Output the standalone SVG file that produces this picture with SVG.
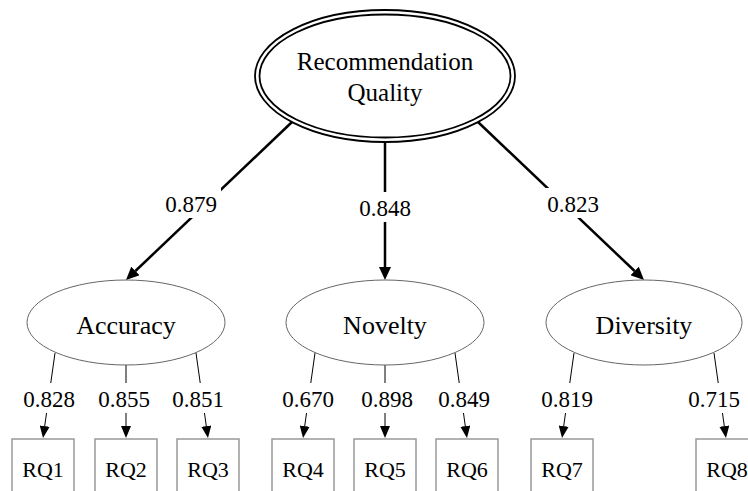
<svg xmlns="http://www.w3.org/2000/svg" width="748" height="491" viewBox="0 0 748 491" font-family="Liberation Serif, serif">
<style>
text{fill:#000;text-anchor:middle}
.t{font-size:25px}
.n{font-size:26px}
.l{font-size:23px}
.r{font-size:22px}
.lat{fill:#fff;stroke:#666;stroke-width:1}
.box{fill:#fff;stroke:#999;stroke-width:1.5}
.thick{stroke:#000;stroke-width:2.5;fill:none}
.thin{stroke:#000;stroke-width:1;fill:none}
.bg{fill:#fff}
</style>
<defs>
<marker id="ah" markerUnits="userSpaceOnUse" markerWidth="14" markerHeight="12" refX="0" refY="6" orient="auto">
<path d="M0,0 L13,6 L0,12 Z" fill="#000"/>
</marker>
<marker id="as" markerUnits="userSpaceOnUse" markerWidth="13" markerHeight="10" refX="0" refY="5" orient="auto">
<path d="M0,0 L12,5 L0,10 Z" fill="#000"/>
</marker>
</defs>
<rect width="748" height="491" fill="#fff"/>
<g id="connectors">
<line class="thick" x1="292" y1="122" x2="135.4" y2="271" marker-end="url(#ah)"/>
<line class="thick" x1="385" y1="142" x2="385" y2="267" marker-end="url(#ah)"/>
<line class="thick" x1="478" y1="122" x2="634.6" y2="271" marker-end="url(#ah)"/>
<line class="thin" x1="55" y1="353" x2="44.7" y2="426.1" marker-end="url(#as)"/>
<line class="thin" x1="126" y1="365" x2="126" y2="426" marker-end="url(#as)"/>
<line class="thin" x1="196" y1="353" x2="206.3" y2="426.1" marker-end="url(#as)"/>
<line class="thin" x1="315" y1="353" x2="304.7" y2="426.1" marker-end="url(#as)"/>
<line class="thin" x1="385" y1="365" x2="385" y2="426" marker-end="url(#as)"/>
<line class="thin" x1="455" y1="353" x2="465.3" y2="426.1" marker-end="url(#as)"/>
<line class="thin" x1="574" y1="353" x2="563.7" y2="426.1" marker-end="url(#as)"/>
<line class="thin" x1="714" y1="353" x2="724.3" y2="426.1" marker-end="url(#as)"/>
<rect class="bg" x="161" y="188" width="60" height="30"/>
<text class="l" x="191" y="212" font-family="Liberation Serif">0.879</text>
<rect class="bg" x="355" y="192" width="60" height="30"/>
<text class="l" x="385" y="216" font-family="Liberation Serif">0.848</text>
<rect class="bg" x="543" y="188" width="60" height="30"/>
<text class="l" x="573" y="212" font-family="Liberation Serif">0.823</text>
<rect class="bg" x="20" y="383" width="58" height="30"/>
<text class="l" x="49" y="407" font-family="Liberation Serif">0.828</text>
<rect class="bg" x="95" y="383" width="58" height="30"/>
<text class="l" x="124" y="407" font-family="Liberation Serif">0.855</text>
<rect class="bg" x="169" y="383" width="58" height="30"/>
<text class="l" x="198" y="407" font-family="Liberation Serif">0.851</text>
<rect class="bg" x="279" y="383" width="58" height="30"/>
<text class="l" x="308" y="407" font-family="Liberation Serif">0.670</text>
<rect class="bg" x="358" y="383" width="58" height="30"/>
<text class="l" x="387" y="407" font-family="Liberation Serif">0.898</text>
<rect class="bg" x="435" y="383" width="58" height="30"/>
<text class="l" x="464" y="407" font-family="Liberation Serif">0.849</text>
<rect class="bg" x="538" y="383" width="58" height="30"/>
<text class="l" x="567" y="407" font-family="Liberation Serif">0.819</text>
<rect class="bg" x="685" y="383" width="58" height="30"/>
<text class="l" x="714" y="407" font-family="Liberation Serif">0.715</text>
</g>
<g id="quality">
<ellipse cx="385" cy="76" rx="130" ry="66" fill="#fff" stroke="#000" stroke-width="1.8"/>
<ellipse cx="385" cy="76" rx="125.5" ry="61.5" fill="none" stroke="#000" stroke-width="1.8"/>
<text class="t" x="385" y="70" font-family="Liberation Serif">Recommendation</text>
<text class="t" x="385" y="101" font-family="Liberation Serif">Quality</text>
</g>
<g id="accuracy">
<ellipse class="lat" cx="126" cy="322.5" rx="99" ry="42.5"/>
<text class="n" x="126" y="334" font-family="Liberation Serif">Accuracy</text>
</g>
<g id="novelty">
<ellipse class="lat" cx="385" cy="322.5" rx="99" ry="42.5"/>
<text class="n" x="385" y="334" font-family="Liberation Serif">Novelty</text>
</g>
<g id="diversity">
<ellipse class="lat" cx="644" cy="322.5" rx="98" ry="42.5"/>
<text class="n" x="644" y="334" font-family="Liberation Serif">Diversity</text>
</g>
<g id="rq1"><rect class="box" x="12" y="439" width="62" height="70"/><text class="r" x="43" y="477" font-family="Liberation Serif">RQ1</text></g>
<g id="rq2"><rect class="box" x="95" y="439" width="62" height="70"/><text class="r" x="126" y="477" font-family="Liberation Serif">RQ2</text></g>
<g id="rq3"><rect class="box" x="177" y="439" width="62" height="70"/><text class="r" x="208" y="477" font-family="Liberation Serif">RQ3</text></g>
<g id="rq4"><rect class="box" x="272" y="439" width="62" height="70"/><text class="r" x="303" y="477" font-family="Liberation Serif">RQ4</text></g>
<g id="rq5"><rect class="box" x="354" y="439" width="62" height="70"/><text class="r" x="385" y="477" font-family="Liberation Serif">RQ5</text></g>
<g id="rq6"><rect class="box" x="436" y="439" width="62" height="70"/><text class="r" x="467" y="477" font-family="Liberation Serif">RQ6</text></g>
<g id="rq7"><rect class="box" x="531" y="439" width="62" height="70"/><text class="r" x="562" y="477" font-family="Liberation Serif">RQ7</text></g>
<g id="rq8"><rect class="box" x="696" y="439" width="62" height="70"/><text class="r" x="727" y="477" font-family="Liberation Serif">RQ8</text></g>
</svg>
